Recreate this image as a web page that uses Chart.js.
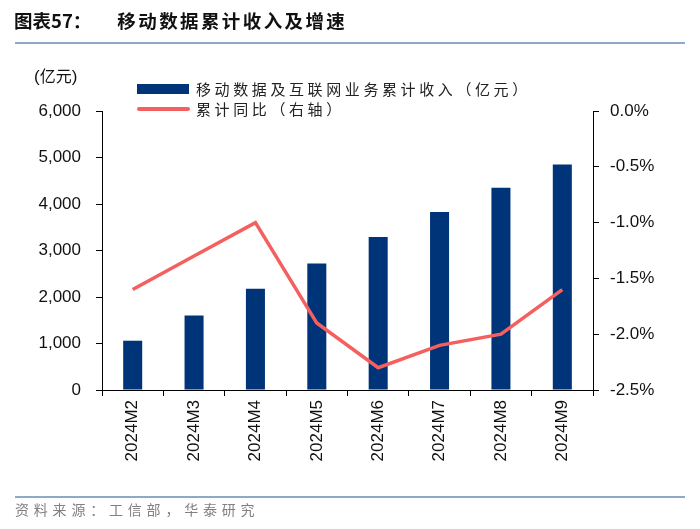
<!DOCTYPE html>
<html>
<head>
<meta charset="utf-8">
<script src="https://cdn.jsdelivr.net/npm/chart.js"></script>
<style>
  body { margin: 0; background: #fff; }
  #wrap { position: relative; width: 700px; height: 529px; overflow: hidden; font-family: "Liberation Sans", Arial, sans-serif; }
  #c { position: absolute; left: 0; top: 0; }
  .title { position: absolute; left: 14px; top: 7px; font: bold 18.5px "Noto Sans CJK SC", sans-serif; color: #111; white-space: nowrap; }
  .title span { letter-spacing: 2.4px; margin-left: 26px; }
  .rule { position: absolute; left: 15px; width: 670px; height: 2px; background: #8ea9c9; }
  .unit { position: absolute; left: 34px; top: 63px; font: 17px "Liberation Sans", sans-serif; color: #111; }
  .unit b { font: 16px "Noto Sans CJK SC", sans-serif; }
  .legend { position: absolute; left: 137px; font: 15px "Noto Sans CJK SC", sans-serif; color: #222; letter-spacing: 3.6px; white-space: nowrap; }
  .legend i { position: absolute; left: 0; }
  .legend div { position: absolute; left: 59px; top: 0; }
  .source { position: absolute; left: 15px; top: 499px; font: 14px "Noto Sans CJK SC", sans-serif; color: #808080; letter-spacing: 4.8px; white-space: nowrap; }
</style>
</head>
<body>
<div id="wrap">
  <canvas id="c" width="700" height="529"></canvas>
  <div class="title">图表57：<span>移动数据累计收入及增速</span></div>
  <div class="rule" style="top:42px"></div>
  <div class="unit">(<b>亿元</b>)</div>
  <div class="legend" style="top:78px"><i style="top:6px;width:52px;height:10px;background:#003478"></i><div>移动数据及互联网业务累计收入（亿元）</div></div>
  <div class="legend" style="top:98px"><i style="top:9px;width:53px;height:4px;background:#f4605f;border-radius:2px"></i><div>累计同比（右轴）</div></div>
  <div class="rule" style="top:496px"></div>
  <div class="source">资料来源：工信部，华泰研究</div>
</div>
<script>
const months = ["2024M2", "2024M3", "2024M4", "2024M5", "2024M6", "2024M7", "2024M8", "2024M9"];
const revenue = [1060, 1600, 2180, 2720, 3290, 3830, 4350, 4850];
const growth = [-1.6, -1.3, -1.0, -1.9, -2.3, -2.1, -2.0, -1.6];

const tickFont = { family: "'Liberation Sans', Arial, sans-serif", size: 17 };

new Chart(document.getElementById('c'), {
  type: 'bar',
  data: {
    labels: months,
    datasets: [
      {
        type: 'line',
        label: '累计同比（右轴）',
        data: growth,
        yAxisID: 'y1',
        borderColor: '#f4605f',
        borderWidth: 3.5,
        pointRadius: 0,
        tension: 0,
        order: 1
      },
      {
        label: '移动数据及互联网业务累计收入（亿元）',
        data: revenue,
        yAxisID: 'y',
        backgroundColor: '#003478',
        barPercentage: 0.31,
        categoryPercentage: 1,
        order: 2
      }
    ]
  },
  options: {
    responsive: false,
    animation: false,
    layout: { padding: { top: 111, left: 0, right: 0, bottom: 0 } },
    plugins: { legend: { display: false }, tooltip: { enabled: false } },
    scales: {
      x: {
        grid: { display: true, offset: true, drawOnChartArea: false, tickLength: 6, color: '#000' },
        border: { color: '#000' },
        ticks: { color: '#111', font: tickFont, minRotation: 90, maxRotation: 90, padding: 4 },
        afterFit: s => { s.height = 139; }
      },
      y: {
        position: 'left',
        min: 0, max: 6000,
        grid: { drawOnChartArea: false, tickLength: 6, color: '#000' },
        border: { color: '#000' },
        ticks: { stepSize: 1000, color: '#111', font: tickFont, padding: 15,
          callback: v => v.toLocaleString('en-US') },
        afterFit: s => { s.width = 102; }
      },
      y1: {
        position: 'right',
        min: -2.5, max: 0,
        grid: { drawOnChartArea: false, tickLength: 6, color: '#000' },
        border: { color: '#000' },
        ticks: { stepSize: 0.5, color: '#111', font: tickFont, padding: 11,
          callback: v => v.toFixed(1) + '%' },
        afterFit: s => { s.width = 107; }
      }
    }
  }
});
</script>
</body>
</html>
